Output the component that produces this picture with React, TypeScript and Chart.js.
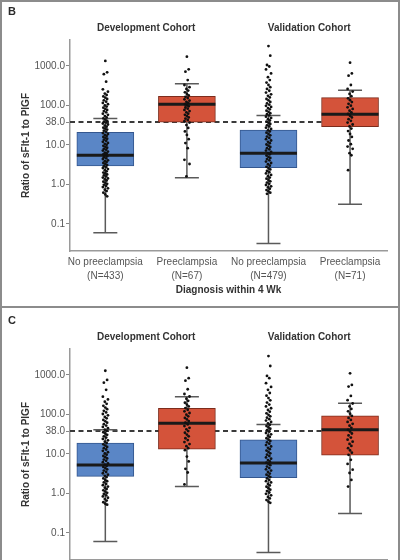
import React, { useEffect, useRef } from "react";
import { Chart, registerables } from "chart.js";
Chart.register(...registerables);

// ---------- data ----------
const CATEGORY_LABELS = [
  ["No preeclampsia", "(N=433)"],
  ["Preeclampsia", "(N=67)"],
  ["No preeclampsia", "(N=479)"],
  ["Preeclampsia", "(N=71)"],
];
const COHORTS = ["Development Cohort", "Validation Cohort"];
const Y_TICKS = [0.1, 1, 10, 38, 100, 1000];
const CUTOFF = 38;
const Y_TITLE = "Ratio of sFlt-1 to PlGF";
const X_TITLE = "Diagnosis within 4 Wk";

// Panel B
const B_LOW = [0.06, 1.49, 0.032, 0.316];
const B_Q1 = [2.94, 38, 2.66, 29];
const B_MEDIAN = [5.5, 107, 6.2, 60];
const B_Q3 = [21, 171, 24, 158];
const B_HIGH = [47, 356, 56, 243];
const B_DOTS_NO_DEV = [1340, 690, 620, 400, 257, 224, 200, 185, 170, 158, 146, 135, 125, 116, 108, 100, 94, 88, 82, 77, 72, 67, 62, 58, 54, 50, 47, 44, 41, 39, 37, 35, 33, 31, 29, 27.5, 26, 24.5, 23, 21.5, 20, 19, 18, 17, 16, 15.2, 14.4, 13.6, 12.8, 12, 11.3, 10.7, 10.1, 9.5, 9, 8.5, 8, 7.6, 7.2, 6.8, 6.4, 6.1, 5.8, 5.5, 5.2, 4.9, 4.6, 4.4, 4.1, 3.9, 3.7, 3.5, 3.3, 3.1, 2.9, 2.75, 2.6, 2.45, 2.3, 2.15, 2.0, 1.9, 1.8, 1.7, 1.6, 1.5, 1.42, 1.34, 1.26, 1.18, 1.1, 1.04, 0.98, 0.92, 0.86, 0.8, 0.74, 0.68, 0.62, 0.56, 0.5];
const B_DOTS_PE_DEV = [1720, 825, 720, 440, 330, 290, 262, 238, 215, 196, 180, 166, 154, 143, 133, 124, 116, 108, 101, 95, 89, 83, 77, 72, 67, 62, 58, 54, 50, 46.5, 43, 40, 37, 32, 27, 22, 18, 14, 11.2, 8.3, 4.2, 3.3, 1.6];
const B_DOTS_NO_VAL = [3200, 1820, 1060, 970, 820, 650, 520, 440, 380, 330, 290, 262, 236, 212, 192, 176, 160, 146, 134, 123, 113, 105, 98, 92, 86, 80, 74, 69, 64, 60, 56, 52, 48.5, 45, 42, 39, 36.5, 34, 31.5, 29.5, 27.5, 25.5, 23.5, 22, 20.5, 19, 17.6, 16.3, 15.1, 14, 13, 12, 11.1, 10.3, 9.6, 8.9, 8.3, 7.7, 7.2, 6.7, 6.2, 5.8, 5.4, 5, 4.7, 4.4, 4.1, 3.8, 3.5, 3.25, 3, 2.8, 2.6, 2.4, 2.2, 2.05, 1.9, 1.75, 1.62, 1.5, 1.4, 1.3, 1.2, 1.12, 1.04, 0.97, 0.9, 0.84, 0.78, 0.72, 0.67, 0.62, 0.58];
const B_DOTS_PE_VAL = [1210, 650, 570, 330, 262, 225, 196, 172, 152, 136, 122, 110, 99, 90, 82, 74, 67, 61, 55, 50, 45, 41, 37, 33, 29.5, 26, 22.5, 19, 16, 13, 10.5, 9.1, 8, 6.2, 5.5, 2.3];

// Panel C
const C_LOW = [0.061, 1.51, 0.032, 0.31];
const C_Q1 = [2.7, 13.3, 2.5, 9.4];
const C_MEDIAN = [5.3, 60, 5.9, 40.8];
const C_Q3 = [18.8, 144, 22.9, 92];
const C_HIGH = [40.8, 283, 56, 193];
const C_DOTS_NO_DEV = [1280, 750, 640, 420, 283, 240, 210, 186, 166, 150, 136, 124, 113, 103, 95, 87, 80, 73, 67, 62, 57, 52.5, 48.5, 45, 41.5, 38.5, 35.5, 33, 30.5, 28, 26, 24, 22.2, 20.5, 19, 17.6, 16.3, 15.1, 14, 13, 12, 11.1, 10.3, 9.6, 8.9, 8.3, 7.7, 7.2, 6.7, 6.2, 5.8, 5.4, 5, 4.7, 4.4, 4.1, 3.8, 3.5, 3.25, 3, 2.8, 2.6, 2.4, 2.2, 2.05, 1.9, 1.75, 1.62, 1.5, 1.4, 1.3, 1.2, 1.12, 1.04, 0.97, 0.9, 0.84, 0.78, 0.72, 0.66, 0.6, 0.55, 0.52];
const C_DOTS_PE_DEV = [1530, 830, 720, 435, 330, 285, 250, 222, 198, 178, 160, 145, 132, 120, 109, 99, 90, 82, 75, 68, 62, 56, 51, 46, 42, 38, 34.5, 31, 28, 25, 22.5, 20, 17.8, 15.8, 14, 12.5, 8.6, 6.5, 4.2, 3.4, 1.7];
const C_DOTS_NO_VAL = [3020, 1690, 945, 830, 620, 500, 420, 350, 300, 260, 228, 200, 178, 160, 144, 130, 118, 107, 98, 90, 83, 76, 70, 64.5, 59.5, 55, 51, 47, 43.5, 40, 37, 34, 31.5, 29, 27, 25, 23, 21.3, 19.7, 18.2, 16.8, 15.5, 14.3, 13.2, 12.2, 11.3, 10.4, 9.6, 8.9, 8.2, 7.6, 7, 6.5, 6, 5.6, 5.2, 4.8, 4.4, 4.1, 3.8, 3.5, 3.2, 3, 2.8, 2.6, 2.4, 2.2, 2.05, 1.9, 1.75, 1.6, 1.48, 1.36, 1.25, 1.15, 1.06, 0.98, 0.9, 0.82, 0.75, 0.68, 0.62, 0.58];
const C_DOTS_PE_VAL = [1100, 560, 510, 295, 230, 190, 160, 138, 120, 105, 92, 82, 73, 65, 58, 52, 46, 41, 37, 33, 29.5, 26, 23, 20.5, 18, 16, 14, 12.3, 10.8, 9.5, 7.1, 5.6, 4, 3.3, 2.2, 1.5];

// ---------- style ----------
const FONT = "'Liberation Sans', Arial, sans-serif";
const BOX_FILL = ["#5a86c6", "#d4533a", "#5a86c6", "#d4533a"];
const BOX_EDGE = ["#34578f", "#7d2c1c", "#34578f", "#7d2c1c"];
const JITTER = [0, 0.022, -0.018, 0.01, -0.03, 0.032, -0.006, 0.016, -0.024];
const W = 402;
const H = 309;

type PanelProps = {
  letter: string;
  low: number[];
  q1: number[];
  median: number[];
  q3: number[];
  high: number[];
  dots: number[][];
};

const boxExtras = {
  id: "boxExtras",
  beforeDatasetsDraw(chart: any, _args: any, opts: any) {
    const { ctx, chartArea, scales } = chart;
    const x = scales.x;
    const y = scales.y;
    ctx.save();
    const yc = y.getPixelForValue(opts.cutoff);
    ctx.setLineDash([5, 3.5]);
    ctx.strokeStyle = "#3a3a3a";
    ctx.lineWidth = 2;
    ctx.beginPath();
    ctx.moveTo(chartArea.left, yc);
    ctx.lineTo(x.getPixelForValue(3), yc);
    ctx.stroke();
    ctx.setLineDash([]);
    ctx.strokeStyle = "#5a5a5a";
    ctx.lineWidth = 1.5;
    opts.low.forEach((lo: number, i: number) => {
      const cx = x.getPixelForValue(i);
      const yl = y.getPixelForValue(lo);
      const yh = y.getPixelForValue(opts.high[i]);
      ctx.beginPath();
      ctx.moveTo(cx, yl);
      ctx.lineTo(cx, yh);
      ctx.moveTo(cx - 12, yl);
      ctx.lineTo(cx + 12, yl);
      ctx.moveTo(cx - 12, yh);
      ctx.lineTo(cx + 12, yh);
      ctx.stroke();
    });
    ctx.restore();
  },
  afterDatasetDraw(chart: any, args: any, opts: any) {
    if (args.index !== 0) return;
    const { ctx, scales } = chart;
    const meta = chart.getDatasetMeta(0);
    ctx.save();
    ctx.strokeStyle = "#1a1a1a";
    ctx.lineWidth = 3;
    opts.median.forEach((m: number, i: number) => {
      const bar = meta.data[i];
      const half = bar.width / 2;
      const ym = scales.y.getPixelForValue(m);
      ctx.beginPath();
      ctx.moveTo(bar.x - half, ym);
      ctx.lineTo(bar.x + half, ym);
      ctx.stroke();
    });
    ctx.restore();
  },
  afterDraw(chart: any, _args: any, opts: any) {
    const { ctx, scales } = chart;
    ctx.save();
    ctx.fillStyle = "#2a2a2a";
    ctx.font = "bold 11px " + FONT;
    ctx.textAlign = "left";
    ctx.textBaseline = "middle";
    ctx.fillText(opts.letter, 8, 12);
    ctx.font = "bold 10px " + FONT;
    ctx.fillStyle = "#333";
    ctx.textAlign = "center";
    COHORTS.forEach((c, k) => {
      ctx.fillText(c, scales.x.getPixelForValue(0.5 + 2 * k), 28);
    });
    ctx.restore();
  },
};

function Panel(p: PanelProps) {
  const ref = useRef<HTMLCanvasElement>(null);
  useEffect(() => {
    if (!ref.current) return;
    const boxes = p.q1.map((q, i) => ({ x: i, y: [q, p.q3[i]] }));
    const points: { x: number; y: number }[] = [];
    p.dots.forEach((arr, g) => {
      arr.forEach((v, k) => points.push({ x: g + JITTER[k % JITTER.length], y: v }));
    });
    const chart = new Chart(ref.current, {
      type: "bar",
      data: {
        datasets: [
          {
            type: "bar",
            data: boxes as any,
            backgroundColor: BOX_FILL,
            borderColor: BOX_EDGE,
            borderWidth: 1,
            borderSkipped: false,
            barThickness: 57,
            order: 2,
          } as any,
          {
            type: "scatter",
            data: points,
            backgroundColor: "#111",
            borderWidth: 0,
            pointRadius: 1.4,
            order: 1,
          } as any,
        ],
      },
      plugins: [boxExtras],
      options: {
        responsive: false,
        animation: false,
        layout: { padding: { top: 40, right: 15, left: 0, bottom: 0 } },
        plugins: {
          legend: { display: false },
          tooltip: { enabled: false },
          boxExtras: {
            letter: p.letter,
            low: p.low,
            high: p.high,
            median: p.median,
            cutoff: CUTOFF,
          },
        } as any,
        scales: {
          x: {
            type: "linear",
            offset: false,
            min: -0.433,
            max: 3.453,
            afterBuildTicks: (s: any) => {
              s.ticks = CATEGORY_LABELS.map((_, i) => ({ value: i }));
            },
            afterFit: (s: any) => {
              s.height = 58;
            },
            grid: { display: false, drawTicks: false, offset: false },
            border: { display: true, color: "#9a9a9a", width: 1.5 },
            ticks: {
              autoSkip: false,
              maxRotation: 0,
              padding: 5,
              color: "#555",
              font: { family: FONT, size: 10, lineHeight: 1.33 },
              callback: (v: any) => CATEGORY_LABELS[Math.round(Number(v))],
            },
            title: {
              display: true,
              text: X_TITLE,
              color: "#333",
              font: { family: FONT, size: 10, weight: "bold", lineHeight: 1.2 },
              padding: { top: 0, bottom: 13 },
            },
          },
          y: {
            type: "logarithmic",
            min: 0.0207,
            max: 4550,
            afterBuildTicks: (s: any) => {
              s.ticks = Y_TICKS.map((v) => ({ value: v }));
            },
            afterFit: (s: any) => {
              s.width = 70;
            },
            grid: {
              display: true,
              drawOnChartArea: false,
              drawTicks: true,
              tickLength: 4,
              color: "#888",
              lineWidth: 1,
            },
            border: { display: true, color: "#9a9a9a", width: 1.5 },
            ticks: {
              autoSkip: false,
              padding: 1,
              color: "#555",
              font: { family: FONT, size: 10 },
              callback: (v: any) => Number(v).toFixed(1),
            },
            title: {
              display: true,
              text: Y_TITLE,
              color: "#333",
              font: { family: FONT, size: 10, weight: "bold", lineHeight: 1.2 },
              padding: { top: 20, bottom: 0 },
            },
          },
        },
      } as any,
    });
    return () => chart.destroy();
  }, []);
  return <canvas ref={ref} width={W} height={H} style={{ display: "block", width: W, height: H }} />;
}

export default function App() {
  return (
    <div
      style={{
        position: "fixed",
        left: 0,
        top: 0,
        width: 402,
        height: 560,
        overflow: "hidden",
        background: "#fff",
      }}
    >
      <div
        style={{
          position: "absolute",
          left: 0,
          top: 0,
          width: 400,
          height: 600,
          border: "2px solid #8c8c8c",
          boxSizing: "border-box",
        }}
      />
      <div style={{ position: "absolute", left: 0, top: 306, width: 400, height: 2, background: "#8c8c8c" }} />
      <div style={{ position: "absolute", left: 0, top: 0 }}>
        <Panel
          letter="B"
          low={B_LOW}
          q1={B_Q1}
          median={B_MEDIAN}
          q3={B_Q3}
          high={B_HIGH}
          dots={[B_DOTS_NO_DEV, B_DOTS_PE_DEV, B_DOTS_NO_VAL, B_DOTS_PE_VAL]}
        />
      </div>
      <div style={{ position: "absolute", left: 0, top: 309 }}>
        <Panel
          letter="C"
          low={C_LOW}
          q1={C_Q1}
          median={C_MEDIAN}
          q3={C_Q3}
          high={C_HIGH}
          dots={[C_DOTS_NO_DEV, C_DOTS_PE_DEV, C_DOTS_NO_VAL, C_DOTS_PE_VAL]}
        />
      </div>
    </div>
  );
}
